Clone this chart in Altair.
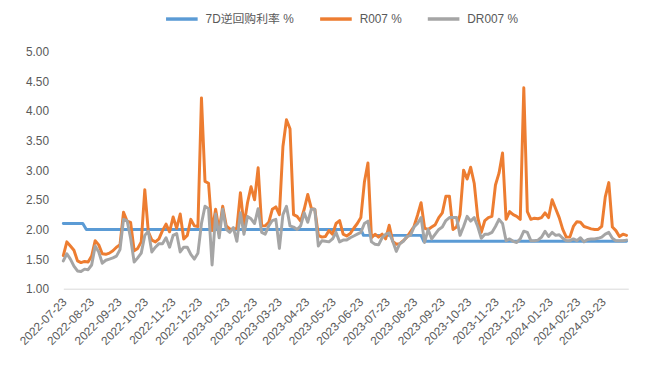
import altair as alt
import pandas as pd

# ---------------- data ----------------
START_DATE = "2022-07-22"   # first sample of R007 / DR007
STEP_DAYS = 4               # sampling step of the series below

r007 = [
    1.56, 1.79, 1.72, 1.65, 1.47, 1.44, 1.46, 1.45, 1.55, 1.81,
    1.74, 1.59, 1.58, 1.60, 1.64, 1.70, 1.74, 2.29, 2.14, 2.12,
    1.64, 1.68, 1.79, 2.67, 1.96, 1.82, 1.79, 1.84, 1.98, 2.09,
    1.96, 2.21, 2.02, 2.26, 1.84, 1.90, 2.17, 2.06, 2.05, 4.22,
    2.81, 2.78, 1.98, 2.34, 1.98, 2.39, 2.06, 2.01, 2.00, 2.02,
    2.62, 2.06, 2.45, 2.72, 2.50, 3.04, 2.06, 2.06, 2.12, 2.34,
    2.38, 2.25, 3.40, 3.85, 3.70, 2.25, 2.22, 2.14, 2.34, 2.59,
    2.36, 2.34, 1.90, 1.87, 1.88, 1.98, 1.92, 2.10, 2.15, 1.92,
    1.89, 1.93, 2.02, 2.10, 2.20, 2.80, 3.12, 1.86, 1.92, 1.87,
    1.92, 1.84, 2.07, 1.80, 1.75, 1.76, 1.81, 1.87, 1.96, 2.05,
    2.24, 2.45, 2.02, 2.00, 2.04, 2.08, 2.20, 2.28, 2.56, 2.56,
    2.00, 2.04, 2.25, 3.00, 2.85, 3.05, 2.78, 2.20, 1.95, 2.15,
    2.20, 2.22, 2.75, 2.95, 3.29, 2.17, 2.30, 2.25, 2.22, 2.17,
    4.39, 2.30, 2.17, 2.19, 2.18, 2.20, 2.28, 2.20, 2.50, 2.35,
    2.20, 2.00, 1.87, 1.87, 2.05, 2.13, 2.12, 2.05, 2.03, 2.01,
    2.00, 2.00, 2.05, 2.55, 2.79, 2.04, 1.98, 1.88, 1.92, 1.90,
]

dr007 = [
    1.47, 1.59, 1.50, 1.38, 1.30, 1.29, 1.33, 1.32, 1.40, 1.72,
    1.62, 1.43, 1.48, 1.50, 1.52, 1.55, 1.66, 2.17, 2.15, 1.85,
    1.45, 1.52, 1.60, 1.90, 1.97, 1.62, 1.70, 1.76, 1.76, 1.86,
    1.70, 1.90, 1.93, 1.62, 1.70, 1.70, 1.58, 1.50, 1.60, 2.10,
    2.39, 2.35, 1.40, 2.26, 1.86, 2.34, 2.00, 1.95, 2.03, 1.80,
    2.28, 1.92, 2.22, 2.18, 2.10, 2.35, 1.95, 1.92, 2.06, 2.15,
    2.17, 1.68, 2.25, 2.39, 2.06, 2.04, 2.00, 2.06, 2.28, 2.12,
    2.34, 2.34, 1.72, 1.81, 1.80, 1.79, 1.84, 1.95, 1.79, 1.82,
    1.82, 1.86, 1.89, 1.92, 1.95, 2.10, 2.14, 1.79, 1.75, 1.74,
    1.86, 1.92, 1.94, 1.80, 1.63, 1.76, 1.80, 1.88, 1.90, 2.04,
    2.10, 2.20, 1.78, 2.00, 1.84, 1.92, 2.00, 2.04, 2.15, 2.20,
    2.20, 2.20, 1.90, 2.05, 2.22, 2.14, 2.20, 2.05, 1.85, 1.92,
    1.92, 1.95, 2.05, 2.17, 2.10, 1.81, 1.84, 1.80, 1.78, 1.84,
    1.97, 1.95, 1.81, 1.81, 1.82, 1.87, 1.97, 1.88, 1.95, 1.90,
    1.91, 1.85, 1.81, 1.81, 1.84, 1.81, 1.86, 1.79, 1.83, 1.84,
    1.84, 1.85, 1.87, 1.92, 1.95, 1.85, 1.81, 1.81, 1.81, 1.82,
]

policy_dates = ["2022-07-22", "2022-08-13", "2022-08-17", "2023-06-23",
                "2023-06-26", "2023-08-30", "2023-09-02", "2024-04-18"]
policy_rate = [2.10, 2.10, 2.00, 2.00, 1.90, 1.90, 1.80, 1.80]

tick_labels = [
    "2022-07-23", "2022-08-23", "2022-09-23", "2022-10-23", "2022-11-23",
    "2022-12-23", "2023-01-23", "2023-02-23", "2023-03-23", "2023-04-23",
    "2023-05-23", "2023-06-23", "2023-07-23", "2023-08-23", "2023-09-23",
    "2023-10-23", "2023-11-23", "2023-12-23", "2024-01-23", "2024-02-23",
    "2024-03-23",
]
x_domain = ["2022-07-22", "2024-04-20"]
y_ticks = [1.0, 1.5, 2.0, 2.5, 3.0, 3.5, 4.0, 4.5, 5.0]

series_names = ["7D逆回购利率 %", "R007 %", "DR007 %"]
series_colors = ["#5B9BD5", "#ED7D31", "#A5A5A5"]

# ---------------- build tables ----------------
dates = pd.date_range(START_DATE, periods=len(r007),
                      freq=f"{STEP_DAYS}D").strftime("%Y-%m-%d").tolist()

df_policy = pd.DataFrame({"date": policy_dates, "value": policy_rate,
                          "series": series_names[0]})
df_r = pd.DataFrame({"date": dates, "value": r007, "series": series_names[1]})
df_dr = pd.DataFrame({"date": dates, "value": dr007, "series": series_names[2]})


def dt(s):
    y, m, d = (int(p) for p in s.split("-"))
    return alt.DateTime(year=y, month=m, date=d, utc=True)


FONT = "Liberation Sans, Noto Sans CJK SC, sans-serif"
TEXT = "#595959"

x_enc = alt.X(
    "date:T",
    scale=alt.Scale(type="utc", domain=[dt(s) for s in x_domain]),
    axis=alt.Axis(
        values=[dt(s) for s in tick_labels],
        format="%Y-%m-%d",
        labelAngle=-45,
        labelAlign="right",
        labelBaseline="middle",
        labelPadding=11,
        ticks=False,
        grid=False,
        domain=True,
        domainColor="#D9D9D9",
        domainWidth=1,
        labelOverlap=False,
        title=None,
    ),
)
y_enc = alt.Y(
    "value:Q",
    scale=alt.Scale(domain=[1, 5], nice=False, zero=False),
    axis=alt.Axis(
        values=y_ticks,
        format=".2f",
        ticks=False,
        grid=False,
        domain=False,
        labelPadding=15,
        title=None,
    ),
)
color_enc = alt.Color(
    "series:N",
    scale=alt.Scale(domain=series_names, range=series_colors),
    sort=series_names,
    legend=alt.Legend(
        title=None,
        orient="none",
        legendX=102,
        legendY=-51,
        direction="horizontal",
        symbolType="stroke",
        symbolSize=1024,
        symbolStrokeWidth=3.5,
        labelOffset=6,
        columnPadding=19,
        padding=0,
        labelLimit=300,
    ),
)


def line_layer(df):
    return alt.Chart(df).mark_line(
        strokeWidth=3, strokeJoin="round", strokeCap="round"
    ).encode(x=x_enc, y=y_enc, color=color_enc)


chart = (
    alt.layer(line_layer(df_policy), line_layer(df_r), line_layer(df_dr))
    .properties(
        width=572,
        height=240,
        padding={"left": 56, "top": 42, "right": 24, "bottom": 70},
        autosize=alt.AutoSizeParams(type="none"),
        background="white",
    )
    .configure_view(stroke=None)
    .configure_axis(labelFont=FONT, labelColor=TEXT, labelFontSize=12)
    .configure_legend(labelFont=FONT, labelColor=TEXT, labelFontSize=12)
)

chart.save("out.html", embed_options={"renderer": "svg", "actions": False})
